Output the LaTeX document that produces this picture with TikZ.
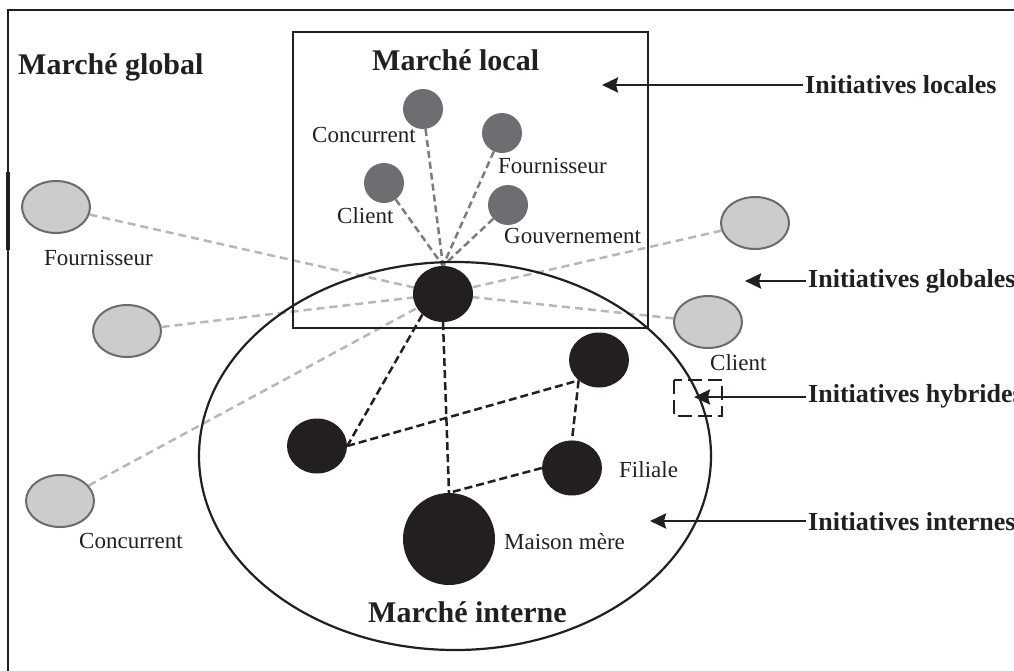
\documentclass[tikz,border=0pt]{standalone}
\usepackage{fontspec}
\setmainfont{Liberation Serif}
\usetikzlibrary{shapes.geometric,arrows.meta}
\pgfdeclarelayer{background}
\pgfsetlayers{background,main}
\definecolor{ink}{HTML}{231F20}
\definecolor{localfill}{HTML}{6D6E71}
\definecolor{globalfill}{HTML}{CBCCCE}
\definecolor{globaledge}{HTML}{6B6B6B}
\definecolor{locallink}{HTML}{7C7C7C}
\definecolor{globallink}{HTML}{B8B8B8}
\tikzset{
  title/.style={font=\fontsize{30}{34}\selectfont\bfseries, text=ink, inner sep=0, anchor=base west},
  side/.style={font=\fontsize{26}{30}\selectfont\bfseries, text=ink, inner sep=0, anchor=base west},
  lbl/.style={font=\fontsize{23}{27}\selectfont, text=ink, inner sep=0, anchor=base west},
  localnode/.style={circle, fill=localfill, minimum size=40pt, inner sep=0},
  globalnode/.style={ellipse, fill=globalfill, draw=globaledge, line width=2pt,
    minimum width=68pt, minimum height=52pt, inner sep=0},
  firm/.style={ellipse, fill=ink, inner sep=0, minimum width=60pt, minimum height=55pt},
  locallinkstyle/.style={draw=locallink, line width=2.5pt, dash pattern=on 7pt off 4pt},
  globallinkstyle/.style={draw=globallink, line width=2.5pt, dash pattern=on 8pt off 5pt},
  firmlink/.style={draw=ink, line width=2.5pt, dash pattern=on 8pt off 4pt},
  pointer/.style={draw=ink, line width=2.5pt, shorten <=2pt,
    -{Stealth[length=16pt,width=15pt,inset=2pt]}},
}
\begin{document}
\begin{tikzpicture}[x=1pt,y=-1pt]
\clip (0,0) rectangle (1014,670);

% outer frame of the global market (top and left sides)
\draw[ink, line width=2.2pt] (8,675) -- (8,10) -- (1020,10);
\draw[ink, line width=4pt] (8,172) -- (8,250);

% local market box and internal market ellipse
\draw[ink, line width=2.5pt] (293,32) rectangle (648,328);
\draw[ink, line width=2.2pt] (455,456) ellipse [x radius=256, y radius=194];

% titles
\node[title] (tglobal) at (18,74) {Marché global};
\node[title] (tlocal) at (372,70) {Marché local};
\node[title] (tinterne) at (368,622) {Marché interne};

% the local subsidiary (hub)
\node[firm, minimum width=60pt, minimum height=56pt] (hub) at (443,294) {};

% local actors
\node[localnode] (lconc) at (423,109) {};
\node[localnode] (lfour) at (502,133) {};
\node[localnode] (lcli)  at (384,183) {};
\node[localnode] (lgouv) at (508,205) {};
\node[lbl] (tlconc) at (312,142) {Concurrent};
\node[lbl] (tlfour) at (498,173) {Fournisseur};
\node[lbl] (tlcli)  at (337,223) {Client};
\node[lbl] (tlgouv) at (504,243) {Gouvernement};

% global actors
\node[globalnode] (gfour) at (56,207) {};
\node[globalnode] (gmid)  at (127,331) {};
\node[globalnode] (gconc) at (60,501) {};
\node[globalnode] (grtop) at (755,223) {};
\node[globalnode] (gcli)  at (708,322) {};
\node[lbl] (tgfour) at (44,265) {Fournisseur};
\node[lbl] (tgconc) at (79,548) {Concurrent};
\node[lbl] (tgcli)  at (710,370) {Client};

% internal network
\node[firm] (ileft) at (317,446) {};
\node[firm] (itr)   at (599,360) {};
\node[firm] (fil)   at (572,468) {};
\node[firm, circle, minimum size=92pt] (mm) at (449,539) {};
\node[lbl] (tfil) at (619,477) {Filiale};
\node[lbl] (tmm)  at (504,549) {Maison mère};

% links, kept under the actors
\begin{pgfonlayer}{background}
  \foreach \g in {gfour,gmid,gconc,grtop,gcli}
    \draw[globallinkstyle] (\g) -- (hub.center);
  \foreach \l in {lconc,lfour,lcli,lgouv}
    \draw[locallinkstyle] (\l) -- (hub.north);
  \draw[firmlink] (hub.225) -- (ileft.east);
  \draw[firmlink] (hub.south) -- (mm.north);
  \draw[firmlink] (ileft.east) -- (itr.225);
  \draw[firmlink] (itr.225) -- (fil.north);
  \draw[firmlink] (fil.west) -- (mm.north);
\end{pgfonlayer}

% initiative labels and pointers
\node[side] (iloc) at (805,93) {Initiatives locales};
\node[side] (iglo) at (808,287) {Initiatives globales};
\node[side] (ihyb) at (808,402) {Initiatives hybrides};
\node[side] (iint) at (808,530) {Initiatives internes};
\coordinate (ploc) at (602,85);
\coordinate (pglo) at (745,281);
\coordinate (phyb) at (694,397);
\coordinate (pint) at (650,521);
\draw[ink, line width=2.5pt, dash pattern=on 14pt off 6pt] (674,380) rectangle (722,416);
\draw[pointer] (iloc.west |- ploc) -- (ploc);
\draw[pointer] (iglo.west |- pglo) -- (pglo);
\draw[pointer] (ihyb.west |- phyb) -- (phyb);
\draw[pointer] (iint.west |- pint) -- (pint);
\end{tikzpicture}
\end{document}
